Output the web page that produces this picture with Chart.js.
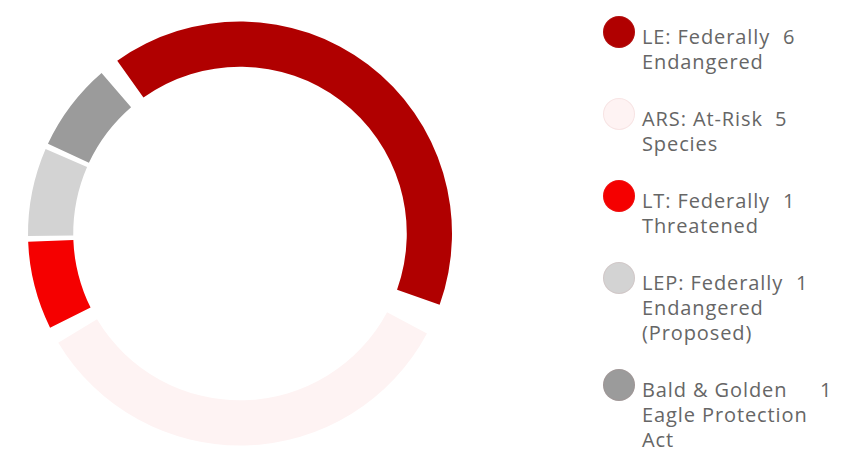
<!DOCTYPE html>
<html>

<head>
  <meta charset="utf-8">
  <title>Listing Status</title>
  <script src="https://cdn.jsdelivr.net/npm/chart.js"></script>
  <style>
    body {
      margin: 0;
      background-color: #FFF;
      font-family: "Open Sans", sans-serif;
    }

    .chart-box {
      position: absolute;
      left: 0;
      top: 0;
      width: 480px;
      height: 461px;
    }

    .legend {
      position: absolute;
      left: 603px;
      top: 16px;
      color: #666;
      font-size: 20px;
      line-height: 25px;
      letter-spacing: 0.9px;
    }

    .legend-item {
      position: relative;
      margin-bottom: 24px;
      padding-left: 39px;
      padding-top: 8px;
      min-height: 24px;
      white-space: nowrap;
    }

    .legend-item .dot {
      position: absolute;
      left: 0;
      top: 0;
      width: 32px;
      height: 32px;
      border-radius: 50%;
      box-shadow: inset 0 0 0 1px rgba(200, 120, 120, 0.12);
    }

    .legend-item .label {
      display: inline-block;
      vertical-align: top;
    }

    .legend-item .value {
      display: inline-block;
      vertical-align: top;
      margin-left: 12px;
    }
  </style>
</head>

<body>
  <div class="chart-box">
    <canvas id="statusChart"></canvas>
  </div>
  <div class="legend" id="legend"></div>

  <script>
    // Species counts by listing status
    const categories = [
      'LE: Federally Endangered',
      'ARS: At-Risk Species',
      'LT: Federally Threatened',
      'LEP: Federally Endangered (Proposed)',
      'Bald & Golden Eagle Protection Act'
    ];
    const counts = [6, 5, 1, 1, 1];
    const colors = ['#B00000', '#FEF3F3', '#F50000', '#D3D3D3', '#9B9B9B'];

    const ctx = document.getElementById('statusChart').getContext('2d');
    const statusChart = new Chart(ctx, {
      type: 'doughnut',
      data: {
        labels: categories,
        datasets: [{
          data: counts,
          backgroundColor: colors,
          borderWidth: 0,
          hoverOffset: 0,
          spacing: 22
        }]
      },
      options: {
        responsive: true,
        maintainAspectRatio: false,
        animation: false,
        events: [],
        rotation: -40,
        radius: 201,
        cutout: '77.5%',
        layout: { padding: { top: 6, bottom: 0 } },
        plugins: {
          legend: { display: false },
          tooltip: { enabled: false }
        }
      }
    });

    // Build legend from chart data, wrapping labels to a max width
    const maxLabelWidth = 182;
    const letterSpacing = 0.9;
    const measure = document.createElement('canvas').getContext('2d');
    measure.font = '20px "Open Sans"';

    function textWidth(s) {
      return measure.measureText(s).width + letterSpacing * s.length;
    }

    function wrapLabel(text) {
      const words = text.split(' ');
      const lines = [];
      let line = '';
      words.forEach(w => {
        const test = line ? line + ' ' + w : w;
        if (line && textWidth(test) > maxLabelWidth) {
          lines.push(line);
          line = w;
        } else {
          line = test;
        }
      });
      if (line) lines.push(line);
      return lines;
    }

    const legendEl = document.getElementById('legend');
    statusChart.data.labels.forEach((label, i) => {
      const lines = wrapLabel(label);
      const width = Math.max(...lines.map(textWidth));
      const item = document.createElement('div');
      item.className = 'legend-item';

      const dot = document.createElement('span');
      dot.className = 'dot';
      dot.style.backgroundColor = statusChart.data.datasets[0].backgroundColor[i];

      const lab = document.createElement('span');
      lab.className = 'label';
      lab.style.width = Math.ceil(width) + 'px';
      lines.forEach((l, k) => {
        if (k > 0) lab.appendChild(document.createElement('br'));
        lab.appendChild(document.createTextNode(l));
      });

      const val = document.createElement('span');
      val.className = 'value';
      val.textContent = statusChart.data.datasets[0].data[i];

      item.appendChild(dot);
      item.appendChild(lab);
      item.appendChild(val);
      legendEl.appendChild(item);
    });
  </script>
</body>

</html>
